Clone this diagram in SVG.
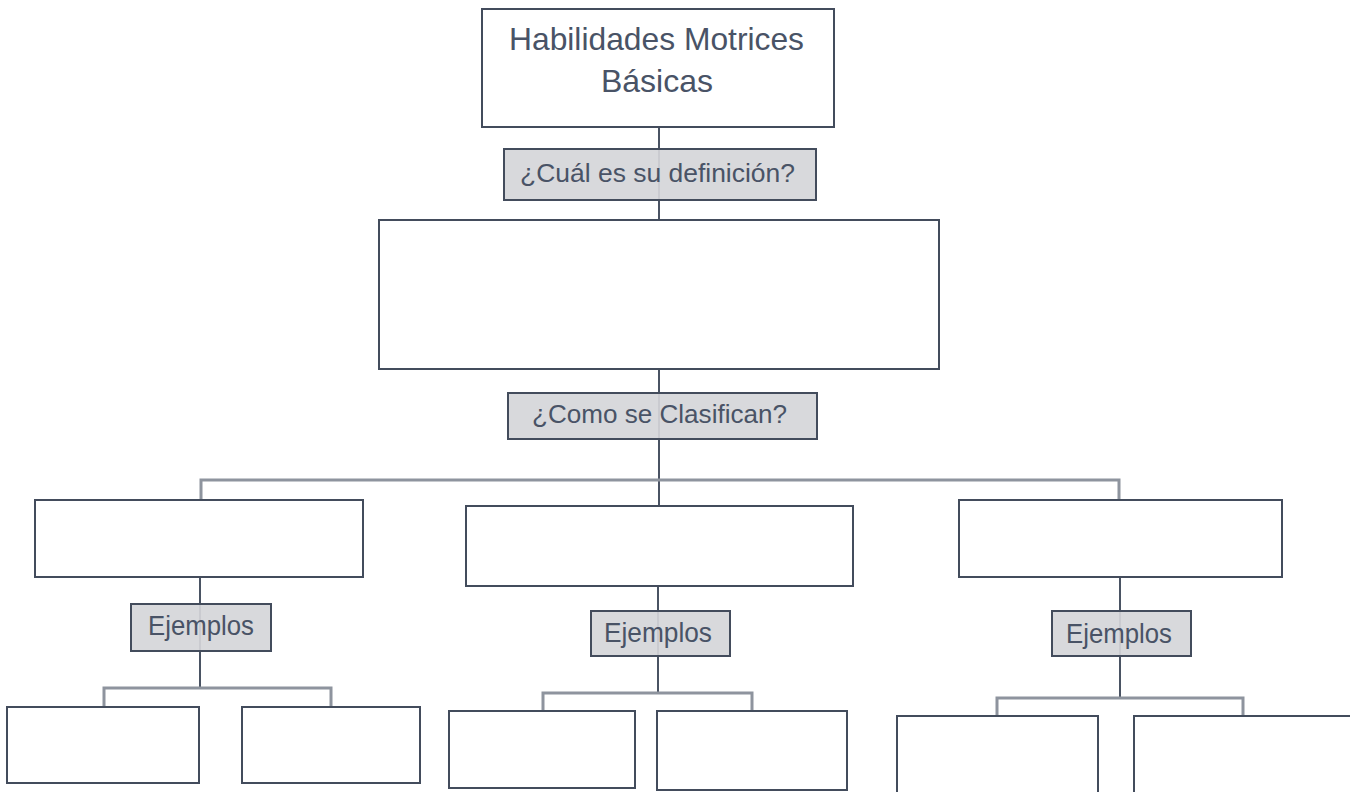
<svg xmlns="http://www.w3.org/2000/svg" width="1350" height="792" viewBox="0 0 1350 792">
<style>
.box{fill:#ffffff;stroke:#434c5c;stroke-width:2}
.lbl{fill:#d5d6d9;stroke:#434c5c;stroke-width:2}
.t{font-family:"Liberation Sans Narrow","Liberation Sans",Arial,sans-serif;fill:#495366}
.v{stroke:#4a5363;stroke-width:2;fill:none}
.h{stroke:#8e949e;stroke-width:3;fill:none}
</style>
<rect width="1350" height="792" fill="#ffffff"/>
<g id="connectors">
<line class="v" x1="659" y1="127" x2="659" y2="220"/>
<line class="v" x1="659" y1="369" x2="659" y2="506"/>
<polyline class="h" points="201,500 201,480 1119,480 1119,500"/>
<line class="v" x1="200" y1="577" x2="200" y2="688"/>
<polyline class="h" points="104,707 104,688 331,688 331,707"/>
<line class="v" x1="658" y1="586" x2="658" y2="693"/>
<polyline class="h" points="543,711 543,693 752,693 752,711"/>
<line class="v" x1="1120" y1="577" x2="1120" y2="698"/>
<polyline class="h" points="997,716 997,698 1243,698 1243,716"/>
</g>
<g id="n-root">
<rect class="box" x="482" y="9" width="352" height="118"/>
<text class="t" x="509" y="50" font-size="32" textLength="295" lengthAdjust="spacingAndGlyphs">Habilidades Motrices</text>
<text class="t" x="601" y="92" font-size="32" textLength="112" lengthAdjust="spacingAndGlyphs">Básicas</text>
</g>
<g id="n-q1">
<rect class="lbl" x="504" y="149" width="312" height="51" fill-opacity="0.92"/>
<text class="t" x="520" y="182" font-size="26" textLength="275" lengthAdjust="spacingAndGlyphs">¿Cuál es su definición?</text>
</g>
<g id="n-def">
<rect class="box" x="379" y="220" width="560" height="149"/>
</g>
<g id="n-q2">
<rect class="lbl" x="508" y="393" width="309" height="46" fill-opacity="0.92"/>
<text class="t" x="532" y="423" font-size="26" textLength="255" lengthAdjust="spacingAndGlyphs">¿Como se Clasifican?</text>
</g>
<g id="n-c1">
<rect class="box" x="35" y="500" width="328" height="77"/>
</g>
<g id="n-c2">
<rect class="box" x="466" y="506" width="387" height="80"/>
</g>
<g id="n-c3">
<rect class="box" x="959" y="500" width="323" height="77"/>
</g>
<g id="n-e1">
<rect class="lbl" x="131" y="604" width="140" height="47" fill-opacity="0.92"/>
<text class="t" x="148" y="635" font-size="28" textLength="106" lengthAdjust="spacingAndGlyphs">Ejemplos</text>
</g>
<g id="n-e2">
<rect class="lbl" x="591" y="611" width="139" height="45" fill-opacity="0.92"/>
<text class="t" x="604" y="642" font-size="28" textLength="108" lengthAdjust="spacingAndGlyphs">Ejemplos</text>
</g>
<g id="n-e3">
<rect class="lbl" x="1052" y="611" width="139" height="45" fill-opacity="0.92"/>
<text class="t" x="1066" y="643" font-size="28" textLength="106" lengthAdjust="spacingAndGlyphs">Ejemplos</text>
</g>
<g id="n-x1"><rect class="box" x="7" y="707" width="192" height="76"/></g>
<g id="n-x2"><rect class="box" x="242" y="707" width="178" height="76"/></g>
<g id="n-x3"><rect class="box" x="449" y="711" width="186" height="77"/></g>
<g id="n-x4"><rect class="box" x="657" y="711" width="190" height="79"/></g>
<g id="n-x5"><rect class="box" x="897" y="716" width="201" height="80"/></g>
<g id="n-x6"><rect class="box" x="1134" y="716" width="220" height="80"/></g>
</svg>
